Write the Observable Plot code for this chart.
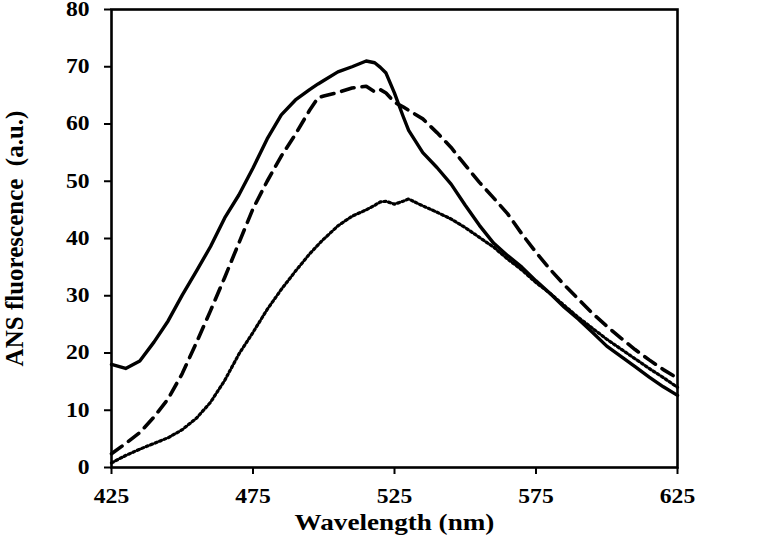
<!DOCTYPE html>
<html>
<head>
<meta charset="utf-8">
<script src="https://cdn.jsdelivr.net/npm/d3@7"></script>
<script src="https://cdn.jsdelivr.net/npm/@observablehq/plot@0.6"></script>
<style>
  html, body { margin: 0; padding: 0; background: white; }
</style>
</head>
<body>
<div id="chart"></div>
<script>
const wavelengths = [425,430,435,440,445,450,455,460,465,470,475,480,485,490,495,498,500,505,510,515,518,520,522,525,528,530,535,540,545,550,555,560,565,570,575,580,585,590,595,600,605,610,615,620,625];
const solidSeries = [18.0,17.3,18.6,21.9,25.6,30.1,34.3,38.6,43.6,47.6,52.3,57.4,61.6,64.2,66.0,67.0,67.6,69.1,70.0,71.0,70.7,69.9,68.9,65.4,61.4,58.9,55.0,52.4,49.5,45.8,42.3,39.2,37.0,35.0,32.6,30.4,28.0,25.9,23.6,21.2,19.4,17.6,15.8,14.1,12.6];
const dashedSeries = [2.4,4.2,6.1,8.8,12.0,16.4,21.8,27.4,33.2,39.2,45.2,50.0,54.4,58.2,62.4,64.6,64.9,65.5,66.3,66.6,65.6,66.0,65.4,63.8,63.0,62.4,60.9,58.5,55.9,52.8,49.8,47.1,44.3,40.8,37.6,34.6,31.9,29.4,26.9,24.7,22.6,20.6,18.8,17.1,15.6];
const dottedSeries = [0.8,2.1,3.2,4.2,5.2,6.6,8.6,11.4,15.2,19.8,23.6,27.6,31.1,34.3,37.3,38.9,39.9,42.2,43.9,45.0,45.8,46.4,46.5,46.0,46.5,46.9,45.7,44.6,43.4,41.9,40.2,38.5,36.4,34.5,32.3,30.4,28.3,26.2,24.3,22.4,20.7,19.0,17.3,15.7,14.0];
const xTicks = [425,475,525,575,625];
const yTicks = [0,10,20,30,40,50,60,70,80];
const xLabel = "Wavelength (nm)";
const yLabel = "ANS fluorescence  (a.u.)";

const toRows = vals => wavelengths.map((w, i) => ({w, v: vals[i]}));

const chart = Plot.plot({
  width: 758,
  height: 543,
  marginLeft: 111,
  marginRight: 81,
  marginTop: 9,
  marginBottom: 76,
  style: {fontFamily: "'Liberation Serif', 'Times New Roman', serif", fontWeight: "bold", fontSize: "20px", color: "black", background: "white"},
  x: {domain: [425, 625]},
  y: {domain: [0, 80]},
  marks: [
    Plot.axisX({ticks: xTicks, tickSize: 7, tickPadding: 14, tickFormat: d => String(d), label: null, strokeWidth: 2}),
    Plot.axisY({ticks: yTicks, tickSize: 7, tickPadding: 15, tickFormat: d => String(d), label: null, strokeWidth: 2}),
    Plot.line(toRows(dottedSeries), {x: "w", y: "v", stroke: "black", strokeWidth: 3.2, strokeDasharray: "2,2.8"}),
    Plot.line(toRows(dashedSeries), {x: "w", y: "v", stroke: "black", strokeWidth: 3.6, strokeDasharray: "13,8"}),
    Plot.line(toRows(solidSeries), {x: "w", y: "v", stroke: "black", strokeWidth: 3.4}),
    Plot.frame({stroke: "black", strokeWidth: 2.6}),
    Plot.text([xLabel], {frameAnchor: "bottom", dy: 55, lineAnchor: "middle", textAnchor: "middle", fontSize: 23, fontWeight: "bold"}),
    Plot.text([yLabel], {frameAnchor: "left", dx: -97, rotate: -90, textAnchor: "middle", lineAnchor: "middle", fontSize: 25, fontWeight: "bold"})
  ]
});
document.getElementById("chart").appendChild(chart);

// horizontal stretch of the text to mimic the reference's aspect
d3.select(chart).selectAll("text").each(function() {
  if (this.textContent === yLabel) return;
  const len = this.getComputedTextLength();
  if (len > 0) {
    this.setAttribute("textLength", (len * 1.18).toFixed(1));
    this.setAttribute("lengthAdjust", "spacingAndGlyphs");
  }
});
</script>
</body>
</html>
